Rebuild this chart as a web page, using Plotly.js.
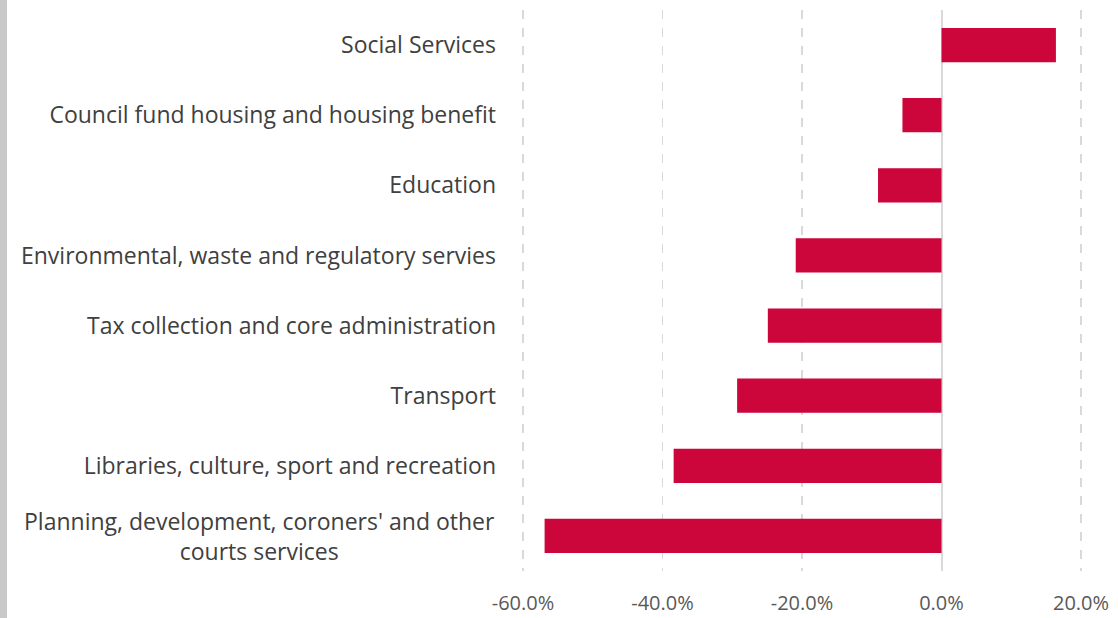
<!DOCTYPE html>
<html>
<head>
<meta charset="utf-8">
<script src="https://cdn.plot.ly/plotly-3.0.1.min.js"></script>
<style>
html,body{margin:0;padding:0;background:#fff;}
#chart{width:1118px;height:618px;}
</style>
</head>
<body>
<div id="chart"></div>
<script>
var categories = [
  "Social Services",
  "Council fund housing and housing benefit",
  "Education",
  "Environmental, waste and regulatory servies",
  "Tax collection and core administration",
  "Transport",
  "Libraries, culture, sport and recreation",
  "Planning, development, coroners' and other<br>courts services"
];
var changePct = [16.4, -5.6, -9.1, -20.9, -24.9, -29.3, -38.4, -56.9];
var tickVals = [-60, -40, -20, 0, 20];
var tickLabels = ["-60.0%", "-40.0%", "-20.0%", "0.0%", "20.0%"];

var multiIdx = categories.length - 1;
var tickText = categories.map(function(c, i){ return i === multiIdx ? "" : c; });

var trace = {
  type: "bar",
  orientation: "h",
  x: changePct,
  y: categories,
  marker: {color: "#cc053a"},
  hoverinfo: "skip"
};

var H = 618, W = 1118;
var mL = 516, mR = 30, mT = 10, mB = 47;
var plotW = W - mL - mR, plotH = H - mT - mB;
var labelGap = 19;

var layout = {
  width: W, height: H,
  margin: {l: mL, r: mR, t: mT, b: mB, pad: 0},
  paper_bgcolor: "#ffffff",
  plot_bgcolor: "#ffffff",
  showlegend: false,
  bargap: 0.51,
  font: {family: "'Open Sans', sans-serif", color: "#404040"},
  xaxis: {
    range: [-61, 21],
    tickvals: tickVals,
    ticktext: tickLabels,
    showgrid: true,
    gridcolor: "#d9d9d9",
    griddash: "dash",
    gridwidth: 1.5,
    zeroline: true,
    zerolinecolor: "#d9d9d9",
    zerolinewidth: 2,
    showline: false,
    ticks: "",
    ticklabelstandoff: 18,
    tickfont: {size: 20, color: "#595959"},
    fixedrange: true
  },
  yaxis: {
    type: "category",
    autorange: "reversed",
    tickmode: "array",
    tickvals: categories,
    ticktext: tickText,
    showgrid: false,
    zeroline: false,
    showline: false,
    ticks: "",
    ticklabelstandoff: labelGap,
    tickfont: {size: 23, color: "#404040"},
    fixedrange: true
  },
  shapes: [{
    type: "rect",
    xref: "paper", yref: "paper",
    x0: (0 - mL) / plotW, x1: (7 - mL) / plotW,
    y0: (mT + plotH - H) / plotH, y1: (mT + plotH) / plotH,
    fillcolor: "#c9c9c9", line: {width: 0}, layer: "above"
  }],
  annotations: [{
    xref: "paper", yref: "y",
    x: -labelGap / plotW, y: categories[multiIdx],
    xanchor: "right", yanchor: "middle",
    align: "center",
    text: categories[multiIdx],
    showarrow: false,
    font: {size: 23, color: "#404040"}
  }]
};

Plotly.newPlot("chart", [trace], layout, {displayModeBar: false, staticPlot: true});
</script>
</body>
</html>
